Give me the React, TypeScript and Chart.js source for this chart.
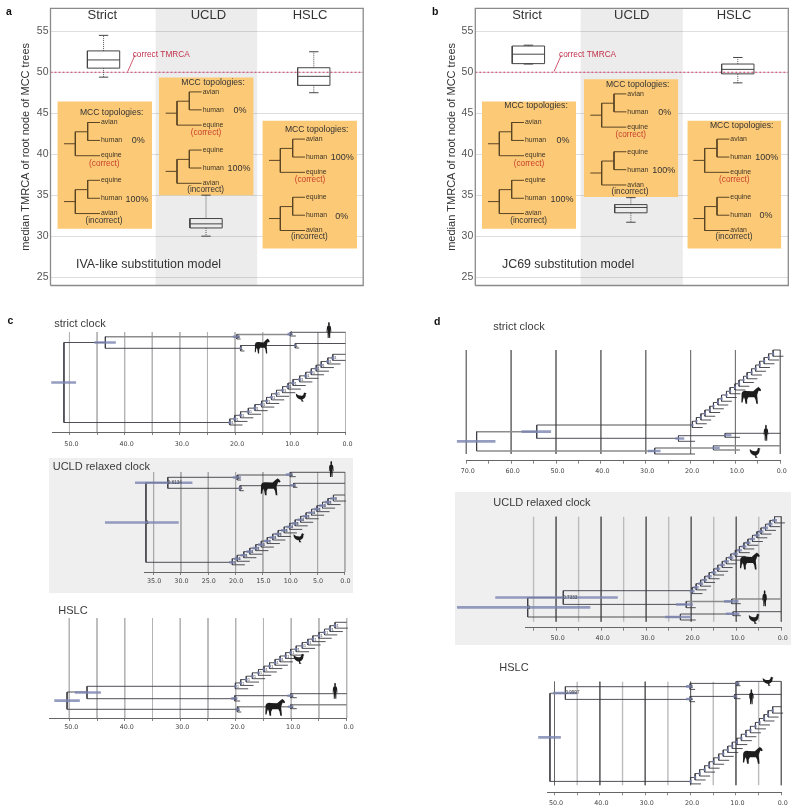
import React, { useEffect, useRef } from "react";
import { Chart, registerables } from "chart.js";

Chart.register(...registerables);

const SANS = "'Liberation Sans', Arial, sans-serif";
const TICK_FAMILY = "'DejaVu Sans', sans-serif";
const INK = "#333333";

/* ---------- panels a and b: box plots ---------- */
const clockModels = ["Strict", "UCLD", "HSLC"];
const yTicks = [25, 30, 35, 40, 45, 50, 55];
const correctTmrca = 50;

const aLow = [49.4, 30.0, 47.5];
const aQ1 = [50.5, 31.0, 48.4];
const aMedian = [51.5, 31.5, 49.5];
const aQ3 = [52.6, 32.15, 50.55];
const aHigh = [54.5, 35.0, 52.5];

const bLow = [51.0, 31.7, 48.7];
const bQ1 = [51.05, 32.85, 49.8];
const bMedian = [52.2, 33.5, 50.35];
const bQ3 = [53.2, 33.85, 51.0];
const bHigh = [53.3, 34.7, 51.8];

const tipsCorrect = ["avian", "human", "equine"];
const tipsIncorrect = ["equine", "human", "avian"];
const noteCorrect = "(correct)";
const noteIncorrect = "(incorrect)";

type InsetTree = { o: number[]; tips: string[]; pct: string; pctAt: number[]; note: string; noteAt: number[] };
type Inset = { box: number[]; title: number[]; trees: InsetTree[] };

const insetsA: Inset[] = [
  { box: [172, 456, 303, 686], title: [335, 336], trees: [
    { o: [192, 366], tips: tipsCorrect, pct: "0%", pctAt: [415, 421], note: noteCorrect, noteAt: [313, 489] },
    { o: [192, 540], tips: tipsIncorrect, pct: "100%", pctAt: [411, 597], note: noteIncorrect, noteAt: [312, 663] },
  ] },
  { box: [477, 761, 231, 585], title: [639, 247], trees: [
    { o: [497, 274], tips: tipsCorrect, pct: "0%", pctAt: [720, 329], note: noteCorrect, noteAt: [618, 396] },
    { o: [497, 449], tips: tipsIncorrect, pct: "100%", pctAt: [717, 505], note: noteIncorrect, noteAt: [617, 568] },
  ] },
  { box: [787, 1071, 361, 745], title: [950, 387], trees: [
    { o: [807, 416], tips: tipsCorrect, pct: "100%", pctAt: [1027, 472], note: noteCorrect, noteAt: [930, 539] },
    { o: [807, 591], tips: tipsIncorrect, pct: "0%", pctAt: [1025, 648], note: noteIncorrect, noteAt: [928, 711] },
  ] },
];
const insetsB: Inset[] = [
  { box: [246, 528, 303, 686], title: [408, 314], trees: [
    { o: [264, 366], tips: tipsCorrect, pct: "0%", pctAt: [489, 421], note: noteCorrect, noteAt: [387, 489] },
    { o: [264, 540], tips: tipsIncorrect, pct: "100%", pctAt: [486, 597], note: noteIncorrect, noteAt: [386, 663] },
  ] },
  { box: [551, 835, 236, 590], title: [713, 253], trees: [
    { o: [571, 280], tips: tipsCorrect, pct: "0%", pctAt: [794, 335], note: noteCorrect, noteAt: [692, 402] },
    { o: [571, 454], tips: tipsIncorrect, pct: "100%", pctAt: [791, 510], note: noteIncorrect, noteAt: [690, 574] },
  ] },
  { box: [862, 1144, 361, 745], title: [1025, 376], trees: [
    { o: [880, 416], tips: tipsCorrect, pct: "100%", pctAt: [1100, 472], note: noteCorrect, noteAt: [1003, 539] },
    { o: [880, 591], tips: tipsIncorrect, pct: "0%", pctAt: [1098, 647], note: noteIncorrect, noteAt: [1002, 711] },
  ] },
];

/* ---------- panels c and d: trees. Ages in million years, rows are vertical tree rows ---------- */
type Node = [number, number, number, number, number, string];
type Branch = [number, number, number, number];
type Sil = [string, number, number, number, number];

const cStrictNodes: Node[] = [
  [51.0, 10.5, 90.5, 53.3, 48.8, ""],
  [43.5, 4.7, 16.3, 45.5, 41.6, ""],
  [19.7, 2.5, 7.0, 20.4, 19.1, "1"],
  [10.0, 0.3, 4.0, 10.5, 9.6, "1"],
  [19.0, 13.5, 19.0, 19.2, 18.8, "1"],
  [9.1, 11.5, 16.0, 9.3, 8.9, "1"],
];
const cStrictBranches: Branch[] = [
  [51, 43.5, 10.5, 0], [51, 20.95, 90.5, 0], [43.5, 19.7, 4.7, 1], [43.5, 19, 16.3, 0],
  [19.7, 10, 2.5, 1], [19.7, 19, 7, 0], [10, 0, 0.3, 0], [10, 9, 4, 0],
  [19, 9.1, 13.5, 0], [19, 18.3, 19, 0], [9.1, 0, 11.5, 0], [9.1, 8.4, 16, 0],
];
const cStrictLadder = [20.95, 20.05, 19.0, 17.6, 16.4, 15.2, 14.3, 13.4, 12.5, 11.4, 10.4, 9.5, 8.3, 7.2, 6.2, 5.3, 4.4, 3.2, 2.3];
const cStrictSil: Sil[] = [["human", 3.0, -2, 7, 16], ["horse", 15.1, 14, 15, 15], ["chicken", 8.0, 65, 11, 9]];

const cUcldNodes: Node[] = [
  [36.4, 10.7, 90.3, 43.9, 30.4, "1"],
  [32.4, 5.3, 16.3, 38.4, 27.9, "0.6134"],
  [19.7, 3.0, 8.0, 20.5, 19.0, "1"],
  [10.0, 0.3, 4.7, 10.8, 9.5, "1"],
  [19.2, 13.7, 18.7, 19.5, 18.9, "1"],
  [9.4, 11.3, 15.3, 10.0, 9.0, "1"],
];
const cUcldBranches: Branch[] = [
  [36.4, 32.4, 10.7, 0], [36.4, 20.6, 90.3, 0], [32.4, 19.7, 5.3, 0], [32.4, 19.2, 16.3, 0],
  [19.7, 10, 3, 0], [19.7, 19, 8, 0], [10, 0, 0.3, 0], [10, 9, 4.7, 0],
  [19.2, 9.4, 13.7, 0], [19.2, 18.5, 18.7, 0], [9.4, 0, 11.3, 0], [9.4, 8.7, 15.3, 0],
];
const cUcldLadder = [20.6, 19.7, 18.5, 17.4, 16.3, 15.3, 14.2, 13.2, 12.2, 11.1, 10.1, 9.1, 8.1, 7.1, 6.1, 5.1, 4.1, 3.1, 2.1];
const cUcldSil: Sil[] = [["human", 2.5, -3, 7, 16], ["horse", 13.6, 14.7, 20, 17], ["chicken", 8.4, 65.7, 11, 9]];

const cHslcNodes: Node[] = [
  [50.4, 74.0, 91.3, 52.7, 48.1, ""],
  [46.8, 68.3, 80.7, 49.0, 44.3, ""],
  [20.2, 77.7, 83.0, 20.8, 19.7, "1"],
  [10.1, 75.7, 79.7, 10.7, 9.6, "1"],
  [19.7, 88.7, 94.0, 20.0, 19.3, "1"],
  [10.1, 86.7, 90.7, 10.6, 9.6, "1"],
];
const cHslcBranches: Branch[] = [
  [50.4, 46.8, 74, 0], [50.4, 19.7, 91.3, 0], [46.8, 20.06, 68.3, 0], [46.8, 20.2, 80.7, 0],
  [20.2, 10.1, 77.7, 0], [20.2, 19.2, 83, 0], [10.1, 0, 75.7, 0], [10.1, 9.0, 79.7, 0],
  [19.7, 10.1, 88.7, 1], [19.7, 19, 94, 0], [10.1, 0, 86.7, 1], [10.1, 9.0, 90.7, 0],
];
const cHslcLadder = [20.06, 19.1, 18.1, 17.0, 15.9, 14.9, 13.9, 12.9, 12.0, 11.0, 10.1, 9.1, 8.0, 7.0, 6.1, 5.0, 4.0, 3.0, 2.1];
const cHslcSil: Sil[] = [["chicken", 8.6, 40.7, 11, 10], ["human", 2.1, 72.7, 7, 16], ["horse", 12.9, 89.3, 20, 17]];

const dStrictNodes: Node[] = [
  [67.7, 81.7, 101.0, 72.1, 63.5, ""],
  [54.3, 75.0, 88.3, 57.7, 51.1, ""],
  [22.7, 85.7, 91.3, 23.4, 21.4, ""],
  [12.3, 83.3, 87.3, 12.5, 10.9, ""],
  [28.0, 98.0, 104.0, 29.5, 26.7, ""],
  [14.9, 95.7, 100.0, 15.1, 13.5, ""],
];
const dStrictBranches: Branch[] = [
  [67.7, 54.3, 81.7, 1], [67.7, 28, 101, 1], [54.3, 19.6, 75, 0], [54.3, 22.7, 88.3, 0],
  [22.7, 12.3, 85.7, 0], [22.7, 19, 91.3, 0], [12.3, 0, 83.3, 0], [12.3, 9, 87.3, 0],
  [28, 14.9, 98, 1], [28, 19, 104, 0], [14.9, 0, 95.7, 1], [14.9, 9, 100, 1],
];
const dStrictLadder = [19.6, 18.7, 17.7, 16.8, 15.7, 14.9, 13.9, 13.1, 12.0, 11.2, 10.1, 9.2, 8.2, 7.4, 6.4, 5.5, 4.6, 3.6, 2.6, 1.6];
const dStrictSil: Sil[] = [["horse", 6.5, 45.3, 20, 17], ["human", 3.2, 82.7, 7, 16], ["chicken", 5.6, 102.7, 11, 10]];

const dUcldNodes: Node[] = [
  [56.3, 81.0, 100.3, 72.0, 42.4, "1"],
  [48.4, 74.0, 87.7, 63.5, 36.3, "0.7333"],
  [21.1, 84.7, 91.0, 23.4, 19.6, ""],
  [11.0, 82.3, 87.0, 12.7, 9.5, ""],
  [22.4, 97.3, 103.3, 25.8, 20.0, ""],
  [10.7, 95.0, 99.0, 12.3, 9.3, ""],
];
const dUcldBranches: Branch[] = [
  [56.3, 48.4, 81, 0], [56.3, 22.4, 100.3, 0], [48.4, 19.8, 74, 0], [48.4, 21.1, 87.7, 0],
  [21.1, 11, 84.7, 1], [21.1, 19, 91, 0], [11, 0, 82.3, 1], [11, 9, 87, 0],
  [22.4, 10.7, 97.3, 0], [22.4, 19, 103.3, 0], [10.7, 0, 95, 0], [10.7, 9, 99, 0],
];
const dUcldLadder = [19.8, 18.9, 17.9, 17.0, 16.0, 15.0, 14.1, 13.1, 12.2, 11.2, 10.2, 9.3, 8.3, 7.4, 6.4, 5.4, 4.5, 3.5, 2.5, 1.5];
const dUcldSil: Sil[] = [["horse", 7.0, 44.3, 20, 17], ["human", 3.7, 81.6, 7, 16], ["chicken", 6.0, 102, 11, 10]];

const dHslcNodes: Node[] = [
  [51.0, 11.7, 99.7, 53.6, 48.6, ""],
  [47.6, 5.0, 17.7, 50.3, 45.0, "0.9997"],
  [20.1, 1.7, 7.7, 21.0, 19.5, "1"],
  [9.8, -0.3, 4.0, 10.1, 9.2, "1"],
  [20.1, 14.7, 20.0, 21.0, 19.5, "1"],
  [10.3, 12.7, 17.0, 10.6, 9.7, "1"],
];
const dHslcBranches: Branch[] = [
  [51, 47.6, 11.7, 1], [51, 20, 99.7, 0], [47.6, 20.1, 5, 0], [47.6, 20.1, 17.7, 0],
  [20.1, 9.8, 1.7, 0], [20.1, 19, 7.7, 0], [9.8, 0, -0.3, 0], [9.8, 9, 4, 0],
  [20.1, 10.3, 14.7, 0], [20.1, 19, 20, 0], [10.3, 0, 12.7, 0], [10.3, 9, 17, 0],
];
const dHslcLadder = [20.0, 19.0, 18.0, 16.9, 15.9, 14.9, 13.8, 12.8, 11.8, 10.8, 9.8, 8.8, 7.8, 6.8, 5.7, 4.8, 3.8, 2.9, 1.9];
const dHslcSil: Sil[] = [["chicken", 2.9, -0.4, 11, 9], ["human", 6.6, 15, 7, 15], ["horse", 6.3, 73.6, 20, 17]];

const tickAges = [70, 65, 60, 55, 50, 45, 40, 35, 30, 25, 20, 15, 10, 5, 0];
const minorAges = [55, 45, 35, 25, 15, 5];
const majorAges = [70, 60, 50, 40, 30, 20, 10, 0];

/* ---------- silhouettes (100 x 100 design box) ---------- */
const SIL_PATHS: Record<string, string> = {
  horse: "M2 42 C4 26 14 22 26 24 L60 26 C68 18 76 8 82 5 L85 0 L89 4 C95 8 100 16 100 21 L95 26 L88 22 C85 32 82 40 80 48 L82 72 L84 100 L76 100 L72 74 L66 62 L36 62 L30 76 L30 100 L22 100 L18 72 L14 62 L10 74 L7 92 L1 92 L2 60 Z",
  human: "M50 0 C58 0 62 6 62 13 C62 18 60 20 58 22 C70 24 78 28 80 38 L84 62 L76 64 L72 44 L70 60 L68 100 L54 100 L50 68 L46 100 L32 100 L30 60 L28 44 L24 64 L16 62 L20 38 C22 28 30 24 42 22 C40 20 38 18 38 13 C38 6 42 0 50 0 Z",
  chicken: "M0 12 L16 26 C26 34 38 36 50 36 C60 36 66 30 70 22 L72 8 L80 0 L88 6 L100 12 L90 18 L90 34 C88 58 76 72 60 76 L64 90 L74 100 L50 100 L50 80 C28 78 8 60 2 36 Z",
};

/* ---------- shared helpers ---------- */
type TextItem = {
  x: number; y: number; text: string; size: number; color?: string; align?: CanvasTextAlign;
  weight?: string; canvasPx?: boolean; family?: string;
};
const GAP = { x: NaN, y: NaN };

function segs(list: number[][]) {
  const out: any[] = [];
  list.forEach(([x0, y0, x1, y1]) => out.push({ x: x0, y: y0 }, { x: x1, y: y1 }, GAP));
  return out;
}

function lineSet(data: any[], color: string, width: number, order: number, extra: any = {}) {
  return {
    data, borderColor: color, borderWidth: width, pointRadius: 0, pointHoverRadius: 0, order,
    clip: false, fill: false, tension: 0, spanGaps: false, ...extra,
  };
}

function overlayPlugin(texts: TextItem[], sils: Sil[]) {
  return {
    id: "overlay",
    afterDatasetsDraw(chart: any) {
      const { ctx, scales } = chart;
      ctx.save();
      sils.forEach(([kind, age, row, w, h]) => {
        const px = scales.x.getPixelForValue(age);
        const py = scales.y.getPixelForValue(row);
        ctx.save();
        ctx.translate(px - w / 2, py - h / 2);
        ctx.scale(w / 100, h / 100);
        ctx.fillStyle = "#1c1c1c";
        ctx.fill(new Path2D(SIL_PATHS[kind]));
        ctx.restore();
      });
      texts.forEach((t) => {
        const px = t.canvasPx ? t.x : scales.x.getPixelForValue(t.x);
        const py = t.canvasPx ? t.y : scales.y.getPixelForValue(t.y);
        ctx.font = `${t.weight || "normal"} ${t.size}px ${t.family || SANS}`;
        ctx.fillStyle = t.color || INK;
        ctx.textAlign = t.align || "left";
        ctx.textBaseline = "middle";
        ctx.fillText(t.text, px, py);
      });
      ctx.restore();
    },
  };
}

/* ---------- box plot panel ---------- */
const INSET_TREE_SEGMENTS = [
  [0, 64, 34, 64], [34, 28, 34, 100], [34, 28, 71, 28], [71, 0, 71, 54],
  [71, 0, 108, 0], [71, 54, 108, 54], [34, 100, 108, 100],
];
const INSET_TIP_ROWS = [0, 54, 99];

type BoxSpec = {
  canvasLeft: number; plotLeft: number; plotRight: number; zeroZ: number; letter: string; letterX: number;
  low: number[]; q1: number[]; median: number[]; q3: number[]; high: number[];
  centers: number[]; heads: number[]; band: number[]; insets: Inset[]; model: string; modelX: number;
  leaderZ: number; titleLeft: number; scaleWidth: number;
};

function buildBoxPanel(canvas: HTMLCanvasElement, s: BoxSpec) {
  const yMin = 23.98, yMax = 57.8;
  // Inset layout is given in 3x design pixels; these convert it to the scale's units.
  const toY = (z: number) => 55 - (z - 91.5) / 24.66;
  const xv = (z: number) => (z - s.zeroZ) / (s.plotRight - s.plotLeft);

  const datasets: any[] = [];
  const texts: TextItem[] = [];

  datasets.push(lineSet([{ x: s.band[0], y: yMax }, { x: s.band[1], y: yMax }], "transparent", 0, 30,
    { fill: { value: yMin }, backgroundColor: "rgba(0,0,0,0.075)" }));
  datasets.push(lineSet([{ x: 0, y: yMin }, { x: 3, y: yMin }, { x: 3, y: yMax }, { x: 0, y: yMax }, { x: 0, y: yMin }], "#8a8a8a", 1.3, 1));

  datasets.push(lineSet([{ x: 0, y: correctTmrca }, { x: 3, y: correctTmrca }], "#d8386e", 1, 5, { borderDash: [2, 2] }));
  datasets.push(lineSet(segs([[xv(s.leaderZ), toY(213), xv(s.leaderZ + 22), toY(163)]]), "#c0304a", 0.8, 5));
  texts.push({ x: xv(s.leaderZ + 15), y: toY(161), text: "correct TMRCA", size: 8.3, color: "#c0304a" });

  const boxLines: number[][] = [], whisk: number[][] = [];
  clockModels.forEach((m, i) => {
    const c = s.centers[i], hw = 0.155, cap = 0.045;
    boxLines.push(
      [c - hw, s.q1[i], c + hw, s.q1[i]], [c + hw, s.q1[i], c + hw, s.q3[i]],
      [c + hw, s.q3[i], c - hw, s.q3[i]], [c - hw, s.q3[i], c - hw, s.q1[i]],
      [c - hw, s.median[i], c + hw, s.median[i]],
      [c - cap, s.high[i], c + cap, s.high[i]], [c - cap, s.low[i], c + cap, s.low[i]],
    );
    whisk.push([c, s.q3[i], c, s.high[i]], [c, s.q1[i], c, s.low[i]]);
    texts.push({ x: s.heads[i], y: toY(44), text: m, size: 13, align: "center" });
  });
  datasets.push(lineSet(segs(boxLines), "#444444", 1, 3));
  datasets.push(lineSet(segs(whisk), "#555555", 1, 3, { borderDash: [1, 1] }));

  s.insets.forEach((ins) => {
    const [l, r, t, b] = ins.box;
    datasets.push(lineSet([{ x: xv(l), y: toY(t) }, { x: xv(r), y: toY(t) }], "transparent", 0, 10,
      { fill: { value: toY(b) }, backgroundColor: "#fcc976" }));
    texts.push({ x: xv(ins.title[0]), y: toY(ins.title[1]), text: "MCC topologies:", size: 8.6, align: "center" });
    ins.trees.forEach((tr) => {
      const [ox, oy] = tr.o;
      const lines = INSET_TREE_SEGMENTS.map(([a, c, d, e]) => [xv(ox + a), toY(oy + c), xv(ox + d), toY(oy + e)]);
      datasets.push(lineSet(segs(lines), "#5a4524", 1, 4));
      tr.tips.forEach((tip, k) => {
        texts.push({ x: xv(ox + 111), y: toY(oy + INSET_TIP_ROWS[k]), text: tip, size: 6.9, color: "#3d3526" });
      });
      texts.push({ x: xv(tr.pctAt[0]), y: toY(tr.pctAt[1]), text: tr.pct, size: 9, align: "center" });
      texts.push({
        x: xv(tr.noteAt[0]), y: toY(tr.noteAt[1]), text: tr.note, size: 8.2, align: "center",
        color: tr.note === noteCorrect ? "#c8402c" : INK,
      });
    });
  });

  texts.push({ x: xv(s.modelX), y: toY(793), text: s.model, size: 12.4 });
  texts.push({ x: s.letterX, y: 12, text: s.letter, size: 10.5, weight: "bold", color: "#111", canvasPx: true });

  return new Chart(canvas, {
    type: "line",
    data: { datasets },
    plugins: [overlayPlugin(texts, [])],
    options: {
      animation: false, responsive: false, events: [],
      layout: { padding: { left: s.titleLeft, top: 7.5, bottom: 14.5, right: 400 - (s.plotRight - s.canvasLeft) } },
      plugins: { legend: { display: false }, tooltip: { enabled: false } },
      scales: {
        x: { type: "linear", min: 0, max: 3, display: false },
        y: {
          type: "linear", min: yMin, max: yMax,
          afterBuildTicks: (sc: any) => { sc.ticks = yTicks.map((v) => ({ value: v })); },
          afterFit: (sc: any) => { sc.width = s.scaleWidth; },
          ticks: { font: { size: 10.5, family: SANS }, color: "#555", padding: 2 },
          grid: { color: "#d6d6d6", lineWidth: 0.8, tickLength: 0, drawTicks: false },
          border: { display: false },
          title: {
            display: true, text: "median TMRCA of root node of MCC trees",
            font: { size: 11, family: SANS }, color: INK, padding: { top: 0, bottom: 0 },
          },
        },
      },
    } as any,
  });
}

/* ---------- tree panel ---------- */
type TreeSpec = {
  canvas: number[]; // left, top, width, height
  plot: number[]; // left, right, top, bottom
  axisAge: number; gridBottom: number; labelPad: number; labelStep: number; labelShift: number;
  title: string; titleAt: number[]; letter?: string; letterAt?: number[];
  nodes: Node[]; branches: Branch[]; ladder: number[]; ladderStem: number; ladderTop: number; ladderHpd: number;
  sils: Sil[]; minor: boolean; minorColor: string; majorColor: string; minorWidth: number;
  bg?: string; ladderLabels: boolean;
};

function buildTree(canvas: HTMLCanvasElement, s: TreeSpec) {
  const [cl, ct, cw, ch] = s.canvas;
  const [pl, pr, pt, pb] = s.plot;
  const rows = pb - pt;
  const dark: number[][] = [], light: number[][] = [], hpd: number[][] = [];
  const texts: TextItem[] = [];

  s.nodes.forEach(([age, top, bottom, old, young, label]) => {
    dark.push([age, top, age, bottom]);
    const mid = (top + bottom) / 2;
    hpd.push([old, mid, young, mid]);
    if (label) texts.push({ x: age, y: mid, text: label, size: 4.6, color: "#444" });
  });
  s.branches.forEach(([from, to, row, isLight]) => {
    (isLight ? light : dark).push([from, row, to, row]);
  });

  const n = s.ladder.length;
  const step = (s.ladderStem - s.ladderTop) / n;
  s.ladder.forEach((age, i) => {
    const mid = s.ladderStem - i * step;
    const next = mid - step;
    dark.push([age, next, age, mid + 2.5]);
    dark.push([age, mid + 2.5, age - 2.3, mid + 2.5]);
    dark.push([age, next, i < n - 1 ? s.ladder[i + 1] : 0, next]);
    hpd.push([age + s.ladderHpd, mid, age - s.ladderHpd, mid]);
    if (s.ladderLabels) texts.push({ x: age - 0.25, y: mid + 0.4, text: "1", size: 4.4, color: "#555" });
  });

  const inRange = (a: number) => a <= s.axisAge;
  const majorSet = majorAges.filter(inRange).map((a) => [a, 0, a, s.gridBottom]);
  const minorSet = minorAges.filter(inRange).map((a) => [a, 0, a, s.gridBottom]);

  const datasets: any[] = [
    lineSet(segs(hpd), "rgba(122,132,178,0.8)", 2.6, 1),
    lineSet(segs(dark), "#3c3c44", 0.9, 2),
    lineSet(segs(light), "#8c8c8c", 1.5, 3),
    lineSet(segs(majorSet), s.majorColor, 1, 4),
  ];
  if (s.minor) datasets.push(lineSet(segs(minorSet), s.minorColor, s.minorWidth, 5));

  texts.push({ x: s.titleAt[0] - cl, y: s.titleAt[1] - ct, text: s.title, size: 11, color: "#3a3a3a", canvasPx: true });
  if (s.letter && s.letterAt) {
    texts.push({ x: s.letterAt[0] - cl, y: s.letterAt[1] - ct, text: s.letter, size: 10.5, weight: "bold", color: "#111", canvasPx: true });
  }

  return new Chart(canvas, {
    type: "line",
    data: { datasets },
    plugins: [overlayPlugin(texts, s.sils)],
    options: {
      animation: false, responsive: false, events: [],
      layout: { padding: { left: pl - cl, right: cl + cw - pr, top: pt - ct, bottom: 0 } },
      plugins: { legend: { display: false }, tooltip: { enabled: false } },
      scales: {
        x: {
          type: "linear", min: 0, max: s.axisAge, reverse: true, position: "bottom",
          afterBuildTicks: (sc: any) => { sc.ticks = tickAges.filter(inRange).map((v) => ({ value: v })); },
          afterFit: (sc: any) => { sc.height = ct + ch - pb; },
          ticks: {
            autoSkip: false, maxRotation: 0, padding: s.labelPad, color: "#444", labelOffset: s.labelShift,
            font: { size: 6.4, family: TICK_FAMILY },
            callback: (v: number) => (v % s.labelStep === 0 ? v.toFixed(1) : ""),
          },
          grid: { drawOnChartArea: false, drawTicks: true, tickLength: 3, tickColor: "#666", tickWidth: 0.8 },
          border: { display: true, color: "#666", width: 1 },
        },
        y: { type: "linear", min: 0, max: rows, reverse: true, display: false },
      },
    } as any,
  });
}

/* ---------- specs ---------- */
const BOX_A: BoxSpec = {
  canvasLeft: 0, plotLeft: 50.5, plotRight: 363.2, zeroZ: 151.5, letter: "a", letterX: 6,
  low: aLow, q1: aQ1, median: aMedian, q3: aQ3, high: aHigh,
  centers: [0.509, 1.492, 2.526], heads: [0.497, 1.515, 2.49], band: [1.006, 1.985], insets: insetsA,
  model: "IVA-like substitution model", modelX: 228, leaderZ: 383, titleLeft: 19, scaleWidth: 31.5,
};
const BOX_B: BoxSpec = {
  canvasLeft: 400, plotLeft: 475.3, plotRight: 788.3, zeroZ: 225.9, letter: "b", letterX: 32,
  low: bLow, q1: bQ1, median: bMedian, q3: bQ3, high: bHigh,
  centers: [0.509, 1.491, 2.516], heads: [0.495, 1.5, 2.48], band: [1.007, 1.99], insets: insetsB,
  model: "JC69 substitution model", modelX: 306, leaderZ: 462, titleLeft: 45, scaleWidth: 30.3,
};

const GREY5 = "#b4b4b4";
const TREES: TreeSpec[] = [
  {
    canvas: [0, 312, 370, 145], plot: [52.9, 345.5, 332, 432], axisAge: 53, gridBottom: 100, labelPad: 6, labelStep: 10, labelShift: 2,
    title: "strict clock", titleAt: [54.3, 324.3], letter: "c", letterAt: [7.5, 321],
    nodes: cStrictNodes, branches: cStrictBranches, ladder: cStrictLadder, ladderStem: 90.5, ladderTop: 22.3, ladderHpd: 0.3,
    sils: cStrictSil, minor: true, minorColor: GREY5, majorColor: GREY5, minorWidth: 1, ladderLabels: true,
  },
  {
    canvas: [49, 458, 304, 135], plot: [144.3, 346.3, 472, 572], axisAge: 36.7, gridBottom: 100, labelPad: 3, labelStep: 5, labelShift: 0.5,
    title: "UCLD relaxed clock", titleAt: [52.7, 467.3],
    nodes: cUcldNodes, branches: cUcldBranches, ladder: cUcldLadder, ladderStem: 90.3, ladderTop: 23, ladderHpd: 0.6,
    sils: cUcldSil, minor: true, minorColor: "#a8a8a8", majorColor: "#a8a8a8", minorWidth: 1, bg: "#efefef", ladderLabels: true,
  },
  {
    canvas: [0, 596, 370, 145], plot: [49.3, 346.7, 618, 718], axisAge: 53.6, gridBottom: 100, labelPad: 3, labelStep: 10, labelShift: 2,
    title: "HSLC", titleAt: [58.3, 610.7],
    nodes: cHslcNodes, branches: cHslcBranches, ladder: cHslcLadder, ladderStem: 68.3, ladderTop: 4.3, ladderHpd: 0.25,
    sils: cHslcSil, minor: true, minorColor: GREY5, majorColor: GREY5, minorWidth: 1, ladderLabels: true,
  },
  {
    canvas: [420, 312, 375, 175], plot: [466.3, 780.3, 350, 460.7], axisAge: 70, gridBottom: 104, labelPad: 4, labelStep: 10, labelShift: 1.5,
    title: "strict clock", titleAt: [493.3, 327.3], letter: "d", letterAt: [434, 321.7],
    nodes: dStrictNodes, branches: dStrictBranches, ladder: dStrictLadder, ladderStem: 75, ladderTop: 0, ladderHpd: 0.25,
    sils: dStrictSil, minor: false, minorColor: "#bbb", majorColor: "#777", minorWidth: 1, ladderLabels: false,
  },
  {
    canvas: [455, 492, 336, 153], plot: [525, 781.3, 516.7, 627.7], axisAge: 56.9, gridBottom: 105, labelPad: 4, labelStep: 10, labelShift: 1.5,
    title: "UCLD relaxed clock", titleAt: [493.3, 503],
    nodes: dUcldNodes, branches: dUcldBranches, ladder: dUcldLadder, ladderStem: 74.4, ladderTop: 0, ladderHpd: 0.55,
    sils: dUcldSil, minor: true, minorColor: "#bcbcbc", majorColor: "#666", minorWidth: 1.4, bg: "#efefef", ladderLabels: false,
  },
  {
    canvas: [440, 655, 355, 156], plot: [547.7, 781.3, 681.7, 792.3], axisAge: 51.5, gridBottom: 103.5, labelPad: 4, labelStep: 10, labelShift: 1.5,
    title: "HSLC", titleAt: [499.3, 668.3],
    nodes: dHslcNodes, branches: dHslcBranches, ladder: dHslcLadder, ladderStem: 99.7, ladderTop: 25, ladderHpd: 0.25,
    sils: dHslcSil, minor: true, minorColor: "#bcbcbc", majorColor: "#666", minorWidth: 1.4, ladderLabels: false,
  },
];

export default function App() {
  const boxARef = useRef<HTMLCanvasElement>(null);
  const boxBRef = useRef<HTMLCanvasElement>(null);
  const treeRefs = useRef<(HTMLCanvasElement | null)[]>([]);

  useEffect(() => {
    const charts: Chart[] = [];
    charts.push(buildBoxPanel(boxARef.current!, BOX_A));
    charts.push(buildBoxPanel(boxBRef.current!, BOX_B));
    TREES.forEach((t, i) => charts.push(buildTree(treeRefs.current[i]!, t)));
    return () => charts.forEach((c) => c.destroy());
  }, []);

  return (
    <div style={{ position: "absolute", left: 0, top: 0, width: 800, height: 811, overflow: "hidden", background: "#fff" }}>
      <canvas ref={boxARef} width={400} height={300} style={{ position: "absolute", left: 0, top: 0 }} />
      <canvas ref={boxBRef} width={400} height={300} style={{ position: "absolute", left: 400, top: 0 }} />
      {TREES.map((t, i) => (
        <canvas
          key={i}
          ref={(el) => { treeRefs.current[i] = el; }}
          width={t.canvas[2]}
          height={t.canvas[3]}
          style={{ position: "absolute", left: t.canvas[0], top: t.canvas[1], background: t.bg || "transparent" }}
        />
      ))}
    </div>
  );
}
